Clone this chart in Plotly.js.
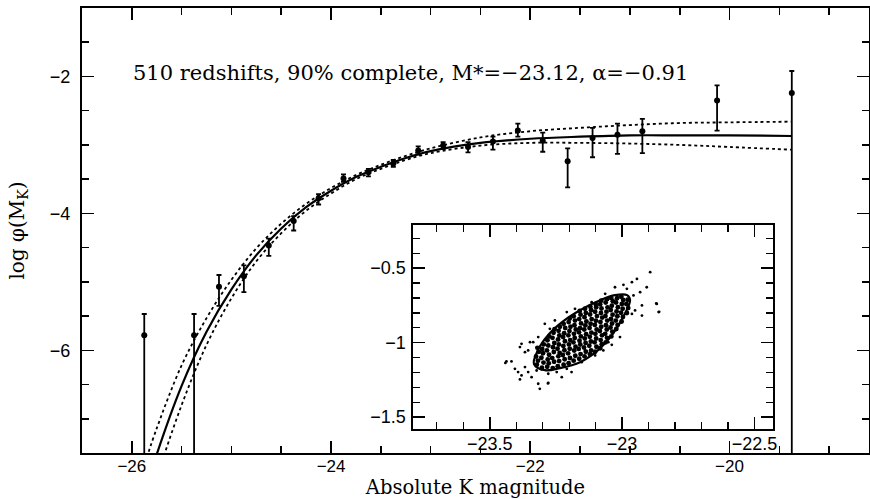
<!DOCTYPE html>
<html>
<head>
<meta charset="utf-8">
<script src="https://cdn.plot.ly/plotly-3.0.1.min.js"></script>
<style>
  html, body { margin: 0; padding: 0; background: #fff; overflow: hidden; }
  #chart { width: 870px; height: 499px; }
</style>
</head>
<body>
<div id="chart"></div>
<script>
// ---- Main panel: luminosity function points ----
const magBins = [-25.875, -25.375, -25.125, -24.875, -24.625, -24.375, -24.125, -23.875, -23.625, -23.375, -23.125, -22.875, -22.625, -22.375, -22.125, -21.875, -21.625, -21.375, -21.125, -20.875, -20.125, -19.375];
const logPhi  = [-5.78, -5.78, -5.07, -4.92, -4.47, -4.11, -3.78, -3.49, -3.40, -3.27, -3.08, -3.01, -3.03, -2.95, -2.79, -2.94, -3.24, -2.90, -2.85, -2.80, -2.35, -2.24];
const errUp   = [0.31, 0.31, 0.17, 0.16, 0.10, 0.07, 0.06, 0.06, 0.05, 0.05, 0.06, 0.05, 0.07, 0.07, 0.10, 0.12, 0.19, 0.15, 0.16, 0.18, 0.22, 0.32];
const errDown = [3.0, 3.0, 0.28, 0.23, 0.15, 0.14, 0.09, 0.05, 0.06, 0.05, 0.06, 0.05, 0.08, 0.12, 0.09, 0.16, 0.38, 0.28, 0.28, 0.32, 0.44, 6.0];

// ---- Fitted curve and its dotted envelope ----
const curveM    = [-25.85, -25.75, -25.5, -25.25, -25.0, -24.75, -24.5, -24.25, -24.0, -23.75, -23.5, -23.25, -23.0, -22.5, -22.0, -21.5, -21.0, -20.5, -20.0, -19.375];
const fitSolid  = [-7.99, -7.52, -6.52, -5.73, -5.11, -4.61, -4.22, -3.91, -3.67, -3.47, -3.32, -3.19, -3.09, -2.97, -2.91, -2.88, -2.86, -2.86, -2.86, -2.87];
const fitUpper  = [-7.57, -7.14, -6.22, -5.53, -4.97, -4.51, -4.15, -3.86, -3.63, -3.44, -3.29, -3.16, -3.05, -2.89, -2.80, -2.75, -2.71, -2.68, -2.67, -2.66];
const fitLower  = [-8.38, -7.87, -6.80, -5.92, -5.24, -4.70, -4.29, -3.96, -3.71, -3.50, -3.35, -3.22, -3.12, -3.01, -2.97, -2.97, -2.98, -3.00, -3.03, -3.07];

// ---- Inset: confidence ellipse in (M*, alpha) ----
const ellipseM     = [-23.333, -23.292, -23.235, -23.159, -23.091, -23.038, -22.992, -22.970, -22.981, -23.027, -23.083, -23.159, -23.227, -23.280, -23.318, -23.333];
const ellipseAlpha = [-1.144, -1.185, -1.171, -1.131, -1.050, -0.950, -0.815, -0.715, -0.681, -0.681, -0.715, -0.782, -0.862, -0.950, -1.050, -1.144];

// ---- Inset: simulated (M*, alpha) fits, dense core ----
const coreM = [
 -23.322,-23.318,-23.325,-23.315,-23.320,
 -23.303,-23.297,-23.305,-23.299,-23.302,-23.296,
 -23.283,-23.277,-23.281,-23.276,-23.284,-23.279,-23.282,-23.275,
 -23.262,-23.257,-23.264,-23.258,-23.261,-23.256,-23.263,-23.259,-23.255,
 -23.243,-23.238,-23.241,-23.236,-23.244,-23.239,-23.242,-23.237,-23.240,-23.235,
 -23.221,-23.217,-23.224,-23.218,-23.222,-23.216,-23.223,-23.219,-23.215,-23.221,
 -23.202,-23.197,-23.204,-23.198,-23.201,-23.196,-23.203,-23.199,-23.195,-23.202,-23.198,
 -23.183,-23.177,-23.181,-23.176,-23.184,-23.179,-23.182,-23.175,-23.180,-23.178,-23.183,
 -23.162,-23.157,-23.164,-23.158,-23.161,-23.156,-23.163,-23.159,-23.155,-23.162,-23.157,-23.160,
 -23.142,-23.137,-23.144,-23.138,-23.141,-23.136,-23.143,-23.139,-23.135,-23.142,-23.137,-23.140,
 -23.121,-23.117,-23.124,-23.118,-23.122,-23.116,-23.123,-23.119,-23.115,-23.121,-23.117,-23.120,
 -23.102,-23.097,-23.104,-23.098,-23.101,-23.096,-23.103,-23.099,-23.095,-23.102,-23.098,-23.100,
 -23.083,-23.077,-23.081,-23.076,-23.084,-23.079,-23.082,-23.075,-23.080,-23.078,-23.083,-23.079,
 -23.062,-23.057,-23.064,-23.058,-23.061,-23.056,-23.063,-23.059,-23.055,-23.062,-23.057,
 -23.041,-23.037,-23.044,-23.038,-23.042,-23.036,-23.043,-23.039,-23.035,-23.041,
 -23.022,-23.017,-23.024,-23.018,-23.021,-23.016,-23.023,-23.019,
 -23.002,-22.997,-23.004,-22.998,-23.001,-22.996,-23.003,
 -22.982,-22.977,-22.984,-22.979
];
const coreAlpha = [
 -1.148,-1.121,-1.093,-1.062,-1.035,
 -1.168,-1.134,-1.102,-1.071,-1.043,-1.012,
 -1.162,-1.139,-1.113,-1.081,-1.052,-1.019,-0.984,-0.958,
 -1.171,-1.128,-1.104,-1.063,-1.031,-1.002,-0.968,-0.934,-0.909,
 -1.158,-1.124,-1.092,-1.069,-1.041,-1.013,-0.979,-0.952,-0.921,-0.893,
 -1.149,-1.112,-1.083,-1.051,-1.022,-0.991,-0.963,-0.937,-0.902,-0.874,
 -1.138,-1.103,-1.072,-1.041,-1.012,-0.983,-0.951,-0.922,-0.893,-0.862,-0.838,
 -1.121,-1.088,-1.053,-1.027,-0.998,-0.969,-0.941,-0.912,-0.883,-0.852,-0.823,
 -1.108,-1.077,-1.042,-1.013,-0.987,-0.958,-0.931,-0.903,-0.871,-0.842,-0.812,-0.788,
 -1.092,-1.061,-1.033,-1.002,-0.972,-0.943,-0.912,-0.884,-0.858,-0.829,-0.801,-0.772,
 -1.078,-1.052,-1.021,-0.992,-0.961,-0.933,-0.902,-0.873,-0.842,-0.811,-0.783,-0.759,
 -1.061,-1.028,-0.998,-0.972,-0.941,-0.912,-0.881,-0.853,-0.822,-0.793,-0.762,-0.741,
 -1.038,-1.011,-0.983,-0.951,-0.922,-0.893,-0.861,-0.832,-0.801,-0.771,-0.742,-0.718,
 -0.998,-0.968,-0.941,-0.912,-0.883,-0.852,-0.821,-0.792,-0.763,-0.731,-0.708,
 -0.958,-0.927,-0.898,-0.872,-0.841,-0.812,-0.781,-0.752,-0.722,-0.701,
 -0.908,-0.881,-0.852,-0.823,-0.791,-0.762,-0.731,-0.702,
 -0.858,-0.828,-0.799,-0.772,-0.741,-0.713,-0.692,
 -0.801,-0.768,-0.741,-0.712
];

// ---- Inset: scattered outlying fits ----
const outerM = [-22.894,-22.944,-22.963,-22.995,-22.982,-23.027,-22.907,-22.932,-22.957,-22.925,-22.869,-22.862,-22.951,-22.963,-22.925,-23.001,-23.008,-23.052,-23.064,-23.115,-23.178,-23.209,-23.254,-23.292,-23.273,-23.317,-23.348,-23.380,-23.386,-23.367,-23.437,-23.418,-23.355,-23.336,-23.405,-23.393,-23.380,-23.386,-23.367,-23.355,-23.342,-23.323,-23.304,-23.279,-23.317,-23.279,-23.311,-23.247,-23.209,-23.191,-23.228,-23.153,-23.102,-23.140,-23.071,-23.039,-22.871,-22.860,-23.441,-23.280];
const outerAlpha = [-0.527,-0.572,-0.594,-0.612,-0.639,-0.628,-0.628,-0.661,-0.683,-0.750,-0.740,-0.795,-0.784,-0.807,-0.818,-0.862,-0.963,-0.997,-0.672,-0.728,-0.773,-0.795,-0.851,-0.874,-0.907,-0.963,-0.997,-1.008,-1.030,-1.064,-1.126,-1.126,-1.052,-0.997,-1.176,-1.198,-1.220,-1.247,-1.164,-1.198,-1.232,-1.187,-1.180,-1.209,-1.276,-1.270,-1.310,-1.198,-1.176,-1.198,-1.232,-1.131,-1.086,-1.052,-1.052,-1.015,-0.737,-0.793,-1.136,-1.274];

const K = '#000';

const traces = [
  { x: curveM, y: fitUpper, mode: 'lines', line: { color: K, width: 1.8, dash: 'dot', shape: 'spline' }, xaxis: 'x', yaxis: 'y', hoverinfo: 'skip' },
  { x: curveM, y: fitLower, mode: 'lines', line: { color: K, width: 1.8, dash: 'dot', shape: 'spline' }, xaxis: 'x', yaxis: 'y', hoverinfo: 'skip' },
  { x: curveM, y: fitSolid, mode: 'lines', line: { color: K, width: 2.2, shape: 'spline' }, xaxis: 'x', yaxis: 'y' },
  { x: magBins, y: logPhi, mode: 'markers', marker: { color: K, size: 6 },
    error_y: { type: 'data', symmetric: false, array: errUp, arrayminus: errDown, color: K, thickness: 1.8, width: 2.5 },
    xaxis: 'x', yaxis: 'y' },
  { x: outerM, y: outerAlpha, mode: 'markers', marker: { color: K, size: 2.8 }, xaxis: 'x2', yaxis: 'y2' },
  { x: coreM, y: coreAlpha, mode: 'markers', marker: { color: K, size: 4.9 }, xaxis: 'x2', yaxis: 'y2' },
  { x: ellipseM, y: ellipseAlpha, mode: 'lines', line: { color: K, width: 2.2, shape: 'spline' }, xaxis: 'x2', yaxis: 'y2' }
];

const sans = 'Liberation Sans, Arial, sans-serif';
const tickFont = { family: sans, size: 18, color: K };
const serif = 'DejaVu Serif, Liberation Serif, serif';

function axisBase(extra) {
  return Object.assign({
    showline: true, linecolor: K, linewidth: 2, mirror: 'allticks',
    ticks: 'inside', tickcolor: K, tickwidth: 1.6,
    showgrid: false, zeroline: false, tickfont: tickFont
  }, extra);
}

const layout = {
  width: 870, height: 499,
  margin: { l: 82, r: 1, t: 8, b: 46 },
  paper_bgcolor: '#fff', plot_bgcolor: '#fff',
  showlegend: false,
  font: { family: sans, color: K },
  xaxis: axisBase({
    range: [-26.5, -18.6], tick0: -26, dtick: 2, ticklen: 12,
    minor: { tick0: -26, dtick: 0.5, ticks: 'inside', ticklen: 7, tickwidth: 1.6, tickcolor: K, showgrid: false },
    tickfont: { family: sans, size: 17, color: K },
    ticklabelstandoff: -3,
    title: { text: 'Absolute K magnitude', font: { family: serif, size: 19.5, color: K }, standoff: 4 }
  }),
  yaxis: axisBase({
    range: [-7.5, -1], tick0: -2, dtick: 2, ticklen: 12,
    minor: { tick0: -2, dtick: 0.5, ticks: 'inside', ticklen: 7, tickwidth: 1.6, tickcolor: K, showgrid: false },
    ticklabelstandoff: 6,
    title: { text: 'log φ(M<sub>K</sub>)', font: { family: serif, size: 20, color: K }, standoff: 20 }
  }),
  xaxis2: axisBase({
    domain: [0.4206, 0.878], anchor: 'y2', linewidth: 1.6,
    range: [-23.79, -22.43], tick0: -23, dtick: 0.5, ticklen: 12,
    minor: { tick0: -23, dtick: 0.1, ticks: 'inside', ticklen: 7, tickwidth: 1.3, tickcolor: K, showgrid: false },
    ticklabelstandoff: -2
  }),
  yaxis2: axisBase({
    domain: [0.0539, 0.5124], anchor: 'x2', linewidth: 1.6,
    range: [-1.58, -0.21], tick0: -1, dtick: 0.5, ticklen: 12,
    minor: { tick0: -1, dtick: 0.1, ticks: 'inside', ticklen: 7, tickwidth: 1.3, tickcolor: K, showgrid: false },
    ticklabelstandoff: 2
  }),
  annotations: [{
    xref: 'paper', yref: 'paper', x: 0.0623, y: 0.854, xanchor: 'left', yanchor: 'middle',
    text: '510 redshifts, 90% complete, M*=−23.12, α=−0.91', showarrow: false,
    font: { family: serif, size: 21, color: K }
  }]
};

Plotly.newPlot('chart', traces, layout, { displayModeBar: false, staticPlot: true });
</script>
</body>
</html>
